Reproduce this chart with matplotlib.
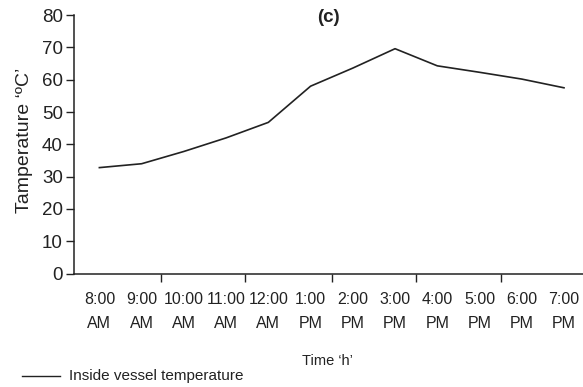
import matplotlib
matplotlib.use("Agg")
import matplotlib.pyplot as plt
import matplotlib.transforms as mtransforms
from matplotlib.lines import Line2D

plt.rcParams['font.family'] = ['Liberation Sans', 'DejaVu Sans']

times = ["8:00", "9:00", "10:00", "11:00", "12:00", "1:00", "2:00", "3:00",
         "4:00", "5:00", "6:00", "7:00"]
periods = ["AM", "AM", "AM", "AM", "AM", "PM", "PM", "PM", "PM", "PM", "PM", "PM"]
temperature = [32.8, 34.0, 37.8, 42.0, 46.8, 58.0, 63.6, 69.6, 64.3, 62.3, 60.2, 57.5]
yticks = [0, 10, 20, 30, 40, 50, 60, 70, 80]
xtick_marks = [1.45, 3.45, 5.5, 7.5, 9.5]

fig = plt.figure(figsize=(5.83, 3.87), dpi=100)
ax = fig.add_axes([0.127, 0.293, 0.873, 0.668])

x = list(range(len(temperature)))
ax.plot(x, temperature, color='#222222', lw=1.2)

ax.set_xlim(-0.6, 11.45)
ax.set_ylim(0, 80)
ax.set_yticks(yticks)
ax.set_yticklabels([str(v) for v in yticks], fontsize=13.5, color='#222222')
ax.set_xticks(xtick_marks)
ax.set_xticklabels([])
ax.tick_params(axis='both', direction='out', length=6, width=1, color='#222222')
ax.tick_params(axis='y', pad=2)
for s in ['top', 'right']:
    ax.spines[s].set_visible(False)
for s in ['left', 'bottom']:
    ax.spines[s].set_color('#222222')
    ax.spines[s].set_linewidth(1.1)

trans = mtransforms.blended_transform_factory(ax.transData, fig.transFigure)
for i, (t, p) in enumerate(zip(times, periods)):
    ax.text(i, 1 - 300 / 387, t, transform=trans, ha='center', va='center',
            fontsize=11.5, color='#222222')
    ax.text(i, 1 - 323 / 387, p, transform=trans, ha='center', va='center',
            fontsize=11.5, color='#222222')

fig.text(25 / 583, 1 - 140 / 387, "Tamperature \u2018\u00baC\u2019", rotation=90,
         ha='center', va='center', fontsize=14, color='#222222')
fig.text(328 / 583, 1 - 17 / 387, "(c)", ha='center', va='center',
         fontsize=13.5, fontweight='bold', color='#222222')
fig.text(327 / 583, 1 - 361 / 387, "Time \u2018h\u2019", ha='center', va='center',
         fontsize=10.5, color='#222222')

fig.lines.append(Line2D([22 / 583, 60 / 583], [1 - 376 / 387, 1 - 376 / 387],
                        transform=fig.transFigure, color='#222222', lw=1))
fig.text(69 / 583, 1 - 376 / 387, "Inside vessel temperature", ha='left', va='center',
         fontsize=11, color='#222222')

fig.savefig("out.png", dpi=100)
